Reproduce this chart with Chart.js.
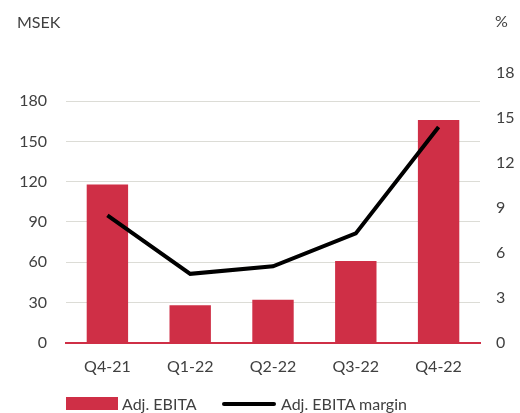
<!DOCTYPE html>
<html>
<head>
<meta charset="utf-8">
<script src="https://cdn.jsdelivr.net/npm/chart.js@4"></script>
<style>
  html, body { margin: 0; padding: 0; background: #fff; }
  #wrap { position: relative; width: 520px; height: 413px; }
  .txt { position: absolute; font-family: Lato, "Open Sans", sans-serif; font-size: 16px; color: #404040; line-height: 18px; }
  .swatch { position: absolute; }
</style>
</head>
<body>
<div id="wrap">
  <canvas id="ebitaChart" width="520" height="413"></canvas>
  <div class="txt" style="left:17px; top:13px;">MSEK</div>
  <div class="txt" style="left:495px; top:12px;">%</div>
  <div class="swatch" style="left:66px; top:397px; width:52px; height:13px; background:#cf2f46;"></div>
  <div class="txt" style="left:122px; top:395px;">Adj. EBITA</div>
  <div class="swatch" style="left:222px; top:402px; width:54px; height:4px; background:#000; border-radius:2px;"></div>
  <div class="txt" style="left:281px; top:395px;">Adj. EBITA margin</div>
</div>
<script>
// Datos
const quarters = ['Q4-21', 'Q1-22', 'Q2-22', 'Q3-22', 'Q4-22'];
const adjEbita = [118, 28, 32, 61, 166];
const adjEbitaMargin = [8.5, 4.6, 5.1, 7.3, 14.4];
const leftTicks = [0, 30, 60, 90, 120, 150, 180];
const rightTicks = [0, 3, 6, 9, 12, 15, 18];

const red = '#cf2f46';
const textColor = '#404040';
const gridColor = '#dcdcd6';
const fontFamily = 'Lato, "Open Sans", sans-serif';

const ctx = document.getElementById('ebitaChart');

new Chart(ctx, {
    data: {
        labels: quarters,
        datasets: [
            {
                type: 'line',
                label: 'Adj. EBITA margin',
                data: adjEbitaMargin,
                yAxisID: 'y1',
                borderColor: '#000',
                borderWidth: 4,
                pointRadius: 0,
                tension: 0,
                order: 0
            },
            {
                type: 'bar',
                label: 'Adj. EBITA',
                data: adjEbita,
                yAxisID: 'y',
                backgroundColor: red,
                barPercentage: 1,
                categoryPercentage: 0.5,
                order: 1
            }
        ]
    },
    options: {
        responsive: false,
        animation: false,
        layout: { padding: { top: 73, bottom: 23, left: 0, right: 0 } },
        plugins: {
            legend: { display: false },
            tooltip: { enabled: false }
        },
        scales: {
            x: {
                grid: { display: false, drawTicks: false },
                border: { color: red, width: 2 },
                ticks: { color: textColor, font: { family: fontFamily, size: 16 }, padding: 14 }
            },
            y: {
                position: 'left',
                min: 0,
                max: 180 * 268 / 240,
                afterBuildTicks: (axis) => { axis.ticks = leftTicks.map(v => ({ value: v })); },
                afterFit: (axis) => { axis.width = 66; },
                grid: {
                    color: (c) => c.tick && c.tick.value === 0 ? 'rgba(0,0,0,0)' : gridColor,
                    drawTicks: false
                },
                border: { display: false },
                ticks: { color: textColor, font: { family: fontFamily, size: 16 }, padding: 19 }
            },
            y1: {
                position: 'right',
                min: 0,
                max: 18,
                afterBuildTicks: (axis) => { axis.ticks = rightTicks.map(v => ({ value: v })); },
                afterFit: (axis) => { axis.width = 40; },
                grid: { display: false, drawTicks: false },
                border: { display: false },
                ticks: { color: textColor, font: { family: fontFamily, size: 16 }, padding: 16 }
            }
        }
    }
});
</script>
</body>
</html>
